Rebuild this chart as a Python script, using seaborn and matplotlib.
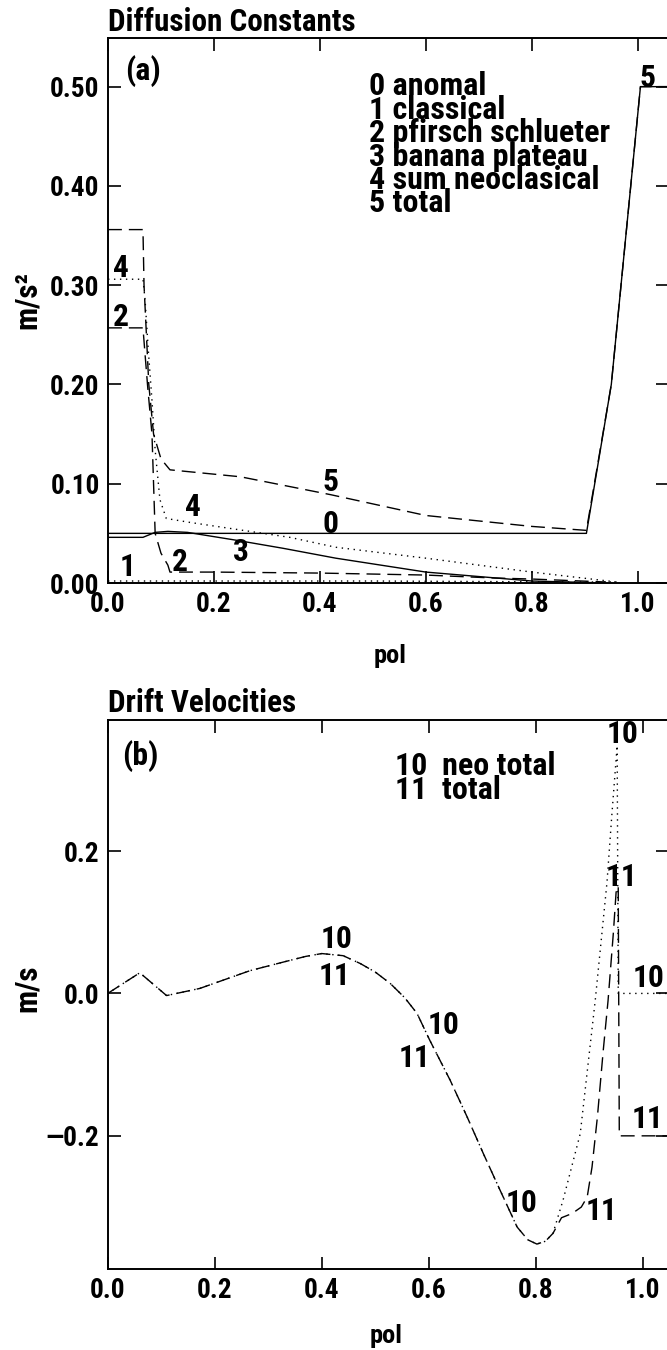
import matplotlib
matplotlib.use("Agg")
import matplotlib.pyplot as plt
from matplotlib import font_manager
from matplotlib.font_manager import FontProperties
from matplotlib.textpath import TextPath
import seaborn as sns

# ---------------- data ----------------
# Panel (a): Diffusion constants vs pol
pol_anomal = [0.0, 0.903, 0.95, 1.005, 1.06]
d_anomal = [0.050, 0.050, 0.200, 0.500, 0.500]

pol_classical = [0.0, 0.5, 0.9, 0.96]
d_classical = [0.002, 0.002, 0.001, 0.001]

pol_pfirsch = [0.0, 0.066, 0.070, 0.075, 0.083, 0.089, 0.100, 0.113, 0.117, 0.2, 0.4, 0.6, 0.73, 0.8, 0.94]
d_pfirsch = [0.257, 0.257, 0.230, 0.197, 0.150, 0.050, 0.030, 0.018, 0.011, 0.011, 0.010, 0.008, 0.005, 0.004, 0.001]

pol_banana = [0.0, 0.066, 0.089, 0.113, 0.15, 0.243, 0.33, 0.43, 0.6, 0.8, 0.94]
d_banana = [0.046, 0.046, 0.051, 0.052, 0.051, 0.043, 0.035, 0.025, 0.011, 0.002, 0.0]

pol_neosum = [0.0, 0.066, 0.070, 0.076, 0.083, 0.089, 0.098, 0.11, 0.155, 0.343, 0.43, 0.6, 0.8, 0.96]
d_neosum = [0.306, 0.306, 0.285, 0.235, 0.184, 0.134, 0.084, 0.065, 0.061, 0.046, 0.036, 0.025, 0.011, 0.001]

pol_total = [0.0, 0.066, 0.068, 0.077, 0.086, 0.100, 0.117, 0.25, 0.42, 0.6, 0.8, 0.903, 0.95, 1.005, 1.06]
d_total = [0.356, 0.356, 0.300, 0.200, 0.150, 0.125, 0.114, 0.107, 0.089, 0.068, 0.057, 0.053, 0.200, 0.500, 0.500]

series_a = ["0 anomal", "1 classical", "2 pfirsch schlueter", "3 banana plateau",
            "4 sum neoclasical", "5 total"]

# Panel (b): Drift velocities vs pol
pol_neo = [0.0, 0.060, 0.11, 0.172, 0.266, 0.328, 0.37, 0.40, 0.44, 0.472, 0.50, 0.528, 0.555,
           0.578, 0.602, 0.64, 0.672, 0.702, 0.733, 0.765, 0.785, 0.802, 0.818, 0.832, 0.851,
           0.883, 0.911, 0.933, 0.942, 0.952, 0.954, 1.06]
v_neo = [0.0, 0.029, -0.003, 0.007, 0.032, 0.044, 0.052, 0.056, 0.053, 0.042, 0.030, 0.014, -0.006,
         -0.028, -0.066, -0.122, -0.174, -0.225, -0.276, -0.328, -0.346, -0.352, -0.348, -0.337,
         -0.290, -0.197, -0.010, 0.156, 0.250, 0.348, 0.0, 0.0]

pol_tot = [0.0, 0.060, 0.11, 0.172, 0.266, 0.328, 0.37, 0.40, 0.44, 0.472, 0.50, 0.528, 0.555,
           0.578, 0.602, 0.64, 0.672, 0.702, 0.733, 0.765, 0.785, 0.802, 0.818, 0.832, 0.848,
           0.868, 0.885, 0.896, 0.905, 0.915, 0.926, 0.935, 0.945, 0.950, 0.954, 0.956, 1.06]
v_tot = [0.0, 0.029, -0.003, 0.007, 0.032, 0.044, 0.052, 0.056, 0.053, 0.042, 0.030, 0.014, -0.006,
         -0.028, -0.066, -0.122, -0.174, -0.225, -0.276, -0.328, -0.346, -0.352, -0.348, -0.337,
         -0.315, -0.309, -0.300, -0.286, -0.244, -0.174, -0.080, -0.010, 0.086, 0.142, 0.151,
         -0.200, -0.200]

series_b = ["10  neo total", "11  total"]

xticks = [0.0, 0.2, 0.4, 0.6, 0.8, 1.0]
xtick_labels = ["0.0", "0.2", "0.4", "0.6", "0.8", "1.0"]
yticks_a = [0.0, 0.1, 0.2, 0.3, 0.4, 0.5]
ytick_labels_a = ["0.00", "0.10", "0.20", "0.30", "0.40", "0.50"]
yticks_b = [-0.2, 0.0, 0.2]
ytick_labels_b = ["\u20140.2", "0.0", "0.2"]

# ---------------- style ----------------
sns.set_theme(style="ticks")

names = {f.name for f in font_manager.fontManager.ttflist}
stretch = "normal"
family = None
for cand in ["Liberation Sans Narrow", "Arial Narrow", "Roboto Condensed",
             "Open Sans Condensed", "Noto Sans Condensed", "DejaVu Sans Condensed"]:
    if cand in names:
        family = cand
        break
if family is None:
    for f in font_manager.fontManager.ttflist:
        st = f.stretch
        is_cond = (isinstance(st, str) and "condensed" in st) or \
                  (isinstance(st, (int, float)) and st < 500)
        if is_cond and f.name in ("Liberation Sans", "Roboto", "Noto Sans", "Open Sans",
                                  "DejaVu Sans", "Lato", "Inter"):
            family = f.name
            stretch = "condensed"
            break
if family is None:
    family = "Liberation Sans" if "Liberation Sans" in names else "DejaVu Sans"

plt.rcParams["font.family"] = [family, "DejaVu Sans"]
plt.rcParams["font.stretch"] = stretch
plt.rcParams["font.weight"] = "bold"
plt.rcParams["axes.labelweight"] = "bold"
plt.rcParams["axes.linewidth"] = 1.4
for k in ("text.color", "axes.labelcolor", "xtick.color", "ytick.color", "axes.edgecolor"):
    plt.rcParams[k] = "black"

DPI = 100

def size_for(text, target_px):
    fp = FontProperties(family=[family, "DejaVu Sans"], weight="bold", stretch=stretch, size=100)
    w = TextPath((0, 0), text, prop=fp).get_extents().width  # points at size 100
    return 100 * target_px / (w * DPI / 72.0)

FS = size_for("Diffusion Constants", 244)
FS_LEG = size_for("1 classical", 132)
FS_POL = size_for("pol", 30)
FS_TICK = size_for("0.50", 47)
FS_NUM = size_for("10", 28)
FS_TAG = size_for("(a)", 32)

DASH = (0, (10, 5))
DOT = (0, (1, 3.3))

fig = plt.figure(figsize=(6.67, 13.5), dpi=DPI)
W, H = 667.0, 1350.0
ax1 = fig.add_axes([108 / W, (H - 583) / H, (668 - 108) / W, 545 / H])
ax2 = fig.add_axes([107.7 / W, (H - 1269) / H, (668 - 107.7) / W, 549 / H])

def line(ax, x, y, ls):
    sns.lineplot(x=x, y=y, ax=ax, estimator=None, sort=False, color="black",
                 linewidth=1.0, linestyle=ls, legend=False)

# ---- panel (a)
line(ax1, pol_anomal, d_anomal, "-")
line(ax1, pol_classical, d_classical, DOT)
line(ax1, pol_pfirsch, d_pfirsch, DASH)
line(ax1, pol_banana, d_banana, "-")
line(ax1, pol_neosum, d_neosum, DOT)
line(ax1, pol_total, d_total, DASH)

ax1.set_xlim(0, 1.057)
ax1.set_ylim(0, 0.549)

labels_a = [("4", 0.025, 0.317), ("2", 0.025, 0.268), ("5", 0.42, 0.102), ("0", 0.42, 0.059),
            ("4", 0.16, 0.077), ("3", 0.25, 0.031), ("2", 0.136, 0.021), ("1", 0.037, 0.016),
            ("5", 1.019, 0.509)]
for t, x, y in labels_a:
    ax1.text(x, y, t, ha="center", va="center", fontsize=FS_NUM, fontweight="bold")

for i, s in enumerate(series_a):
    ax1.text(0.466, 0.895 - i * 0.043, s, transform=ax1.transAxes, ha="left",
             va="baseline", fontsize=FS_LEG, fontweight="bold")
ax1.text(0.03, 0.923, "(a)", transform=ax1.transAxes, ha="left", va="baseline",
         fontsize=FS_TAG, fontweight="bold")
ax1.text(0.0, 1.013, "Diffusion Constants", transform=ax1.transAxes, ha="left",
         va="baseline", fontsize=FS, fontweight="bold")

ax1.set_xticks(xticks)
ax1.set_xticklabels(xtick_labels)
ax1.set_yticks(yticks_a)
ax1.set_yticklabels(ytick_labels_a)
ax1.set_xlabel("pol", fontsize=FS_POL, fontweight="bold")
ax1.xaxis.set_label_coords(0.504, -0.112)
ax1.set_ylabel("m/s\u00b2", fontsize=FS, fontweight="bold")
ax1.yaxis.set_label_coords(-0.118, 0.52)

# ---- panel (b)
line(ax2, pol_neo, v_neo, DOT)
line(ax2, pol_tot, v_tot, DASH)
ax2.set_xlim(0, 1.047)
ax2.set_ylim(-0.387, 0.384)

labels_b = [("10", 0.427, 0.077), ("11", 0.423, 0.025), ("10", 0.627, -0.045),
            ("11", 0.573, -0.090), ("10", 0.774, -0.295), ("11", 0.922, -0.306),
            ("11", 1.008, -0.177), ("10", 0.963, 0.365), ("11", 0.961, 0.164),
            ("10", 1.010, 0.021)]
for t, x, y in labels_b:
    ax2.text(x, y, t, ha="center", va="center", fontsize=FS_NUM, fontweight="bold")

for i, s in enumerate(series_b):
    ax2.text(0.513, 0.90 - i * 0.043, s, transform=ax2.transAxes, ha="left",
             va="baseline", fontsize=FS_LEG, fontweight="bold")
ax2.text(0.026, 0.918, "(b)", transform=ax2.transAxes, ha="left", va="baseline",
         fontsize=FS_TAG, fontweight="bold")
ax2.text(0.0, 1.015, "Drift Velocities", transform=ax2.transAxes, ha="left",
         va="baseline", fontsize=FS, fontweight="bold")

ax2.set_xticks(xticks)
ax2.set_xticklabels(xtick_labels)
ax2.set_yticks(yticks_b)
ax2.set_yticklabels(ytick_labels_b)
ax2.set_xlabel("pol", fontsize=FS_POL, fontweight="bold")
ax2.xaxis.set_label_coords(0.496, -0.100)
ax2.set_ylabel("m/s", fontsize=FS, fontweight="bold")
ax2.yaxis.set_label_coords(-0.118, 0.512)

for ax in (ax1, ax2):
    ax.tick_params(direction="in", length=9, width=1.2, top=True, right=True,
                   labeltop=False, labelright=False, labelsize=FS_TICK, pad=6,
                   colors="black")
    for lab in ax.get_xticklabels() + ax.get_yticklabels():
        lab.set_fontweight("bold")
    for sp in ax.spines.values():
        sp.set_visible(True)
        sp.set_color("black")

fig.savefig("out.png", dpi=DPI, facecolor="white")
